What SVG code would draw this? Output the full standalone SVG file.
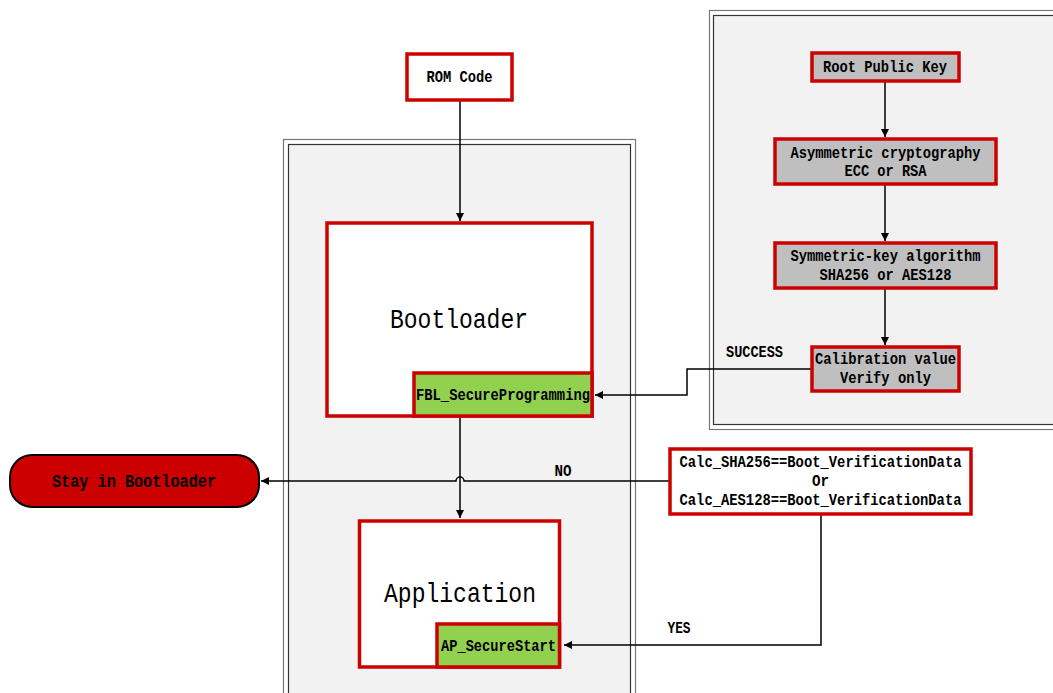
<svg xmlns="http://www.w3.org/2000/svg" width="1053" height="693" viewBox="0 0 1053 693">
<style>
.box{stroke:#cc0000;stroke-width:3.5}
.w{fill:#ffffff}
.g{fill:#bfbfbf}
.gr{fill:#92d050}
.t{font-family:"Liberation Mono","DejaVu Sans Mono",monospace;font-weight:bold;font-size:16px;fill:#000;text-anchor:middle}
.big{font-family:"Liberation Mono","DejaVu Sans Mono",monospace;font-size:28px;fill:#000;text-anchor:middle}
.c{fill:none;stroke:#000;stroke-width:1.5}
</style>
<defs>
<marker id="ar" markerUnits="userSpaceOnUse" markerWidth="10" markerHeight="10" refX="8" refY="4" orient="auto">
<path d="M0,0 L8,4 L0,8 z" fill="#000"/>
</marker>
</defs>
<rect width="1053" height="693" fill="#ffffff"/>
<g id="container-left">
<rect x="283.5" y="139.5" width="352" height="600" fill="#ffffff" stroke="#777" stroke-width="1.2"/>
<rect x="288.5" y="144.5" width="342" height="600" fill="#f2f2f2" stroke="#333" stroke-width="1.2"/>
</g>
<g id="container-right">
<rect x="709.5" y="10.5" width="400" height="419" fill="#ffffff" stroke="#777" stroke-width="1.2"/>
<rect x="713.5" y="15.5" width="400" height="409" fill="#f2f2f2" stroke="#333" stroke-width="1.2"/>
</g>
<g id="connectors">
<path class="c" d="M460,101 V221" marker-end="url(#ar)"/>
<path class="c" d="M460,418 V518" marker-end="url(#ar)"/>
<path class="c" d="M669,481 H464 A4,4 0 0 0 456,481 H261" marker-end="url(#ar)"/>
<path class="c" d="M885,81 V137" marker-end="url(#ar)"/>
<path class="c" d="M885,185 V241" marker-end="url(#ar)"/>
<path class="c" d="M885,289 V345" marker-end="url(#ar)"/>
<path class="c" d="M811,369 H687 V395 H595" marker-end="url(#ar)"/>
<path class="c" d="M821,515 V645 H564" marker-end="url(#ar)"/>
<text class="t" x="754.5" y="357" textLength="57" lengthAdjust="spacingAndGlyphs">SUCCESS</text>
<text class="t" x="563" y="476" textLength="17" lengthAdjust="spacingAndGlyphs">NO</text>
<text class="t" x="679" y="633" textLength="23" lengthAdjust="spacingAndGlyphs">YES</text>
</g>
<g id="rom-code">
<rect class="box w" x="407" y="54" width="105" height="46"/>
<text class="t" x="459.5" y="82" textLength="66" lengthAdjust="spacingAndGlyphs">ROM Code</text>
</g>
<g id="bootloader">
<rect class="box w" x="327" y="223" width="265" height="193"/>
<text class="big" x="459" y="328" textLength="138" lengthAdjust="spacingAndGlyphs">Bootloader</text>
</g>
<g id="fbl-secure-programming">
<rect class="box gr" x="414" y="373" width="178" height="43"/>
<text class="t" x="503" y="400" textLength="174" lengthAdjust="spacingAndGlyphs">FBL_SecureProgramming</text>
</g>
<g id="application">
<rect class="box w" x="359.5" y="521" width="200" height="146"/>
<text class="big" x="460" y="602" textLength="152" lengthAdjust="spacingAndGlyphs">Application</text>
</g>
<g id="ap-secure-start">
<rect class="box gr" x="437" y="624" width="122.5" height="43"/>
<text class="t" x="498.5" y="651" textLength="115" lengthAdjust="spacingAndGlyphs">AP_SecureStart</text>
</g>
<g id="stay-in-bootloader">
<rect x="10" y="455" width="249" height="52" rx="22" ry="22" fill="#cc0000" stroke="#000" stroke-width="2"/>
<text class="t" x="134" y="487" textLength="164" lengthAdjust="spacingAndGlyphs" style="font-size:18px">Stay in Bootloader</text>
</g>
<g id="calc-check">
<rect class="box w" x="670" y="449" width="301" height="65"/>
<text class="t" x="820.5" y="467" textLength="282" lengthAdjust="spacingAndGlyphs">Calc_SHA256==Boot_VerificationData</text>
<text class="t" x="820.5" y="486" textLength="17" lengthAdjust="spacingAndGlyphs">Or</text>
<text class="t" x="820.5" y="505" textLength="282" lengthAdjust="spacingAndGlyphs">Calc_AES128==Boot_VerificationData</text>
</g>
<g id="root-public-key">
<rect class="box g" x="812" y="53" width="147" height="28"/>
<text class="t" x="885" y="72" textLength="124" lengthAdjust="spacingAndGlyphs">Root Public Key</text>
</g>
<g id="asymmetric">
<rect class="box g" x="775" y="139" width="221" height="45"/>
<text class="t" x="885.5" y="158" textLength="190" lengthAdjust="spacingAndGlyphs">Asymmetric cryptography</text>
<text class="t" x="885.5" y="176" textLength="82" lengthAdjust="spacingAndGlyphs">ECC or RSA</text>
</g>
<g id="symmetric">
<rect class="box g" x="775" y="243" width="221" height="45"/>
<text class="t" x="885.5" y="261" textLength="190" lengthAdjust="spacingAndGlyphs">Symmetric-key algorithm</text>
<text class="t" x="885.5" y="280" textLength="132" lengthAdjust="spacingAndGlyphs">SHA256 or AES128</text>
</g>
<g id="calibration">
<rect class="box g" x="812" y="347" width="147" height="44"/>
<text class="t" x="885.5" y="364" textLength="141" lengthAdjust="spacingAndGlyphs">Calibration value</text>
<text class="t" x="885.5" y="383" textLength="91" lengthAdjust="spacingAndGlyphs">Verify only</text>
</g>
</svg>
